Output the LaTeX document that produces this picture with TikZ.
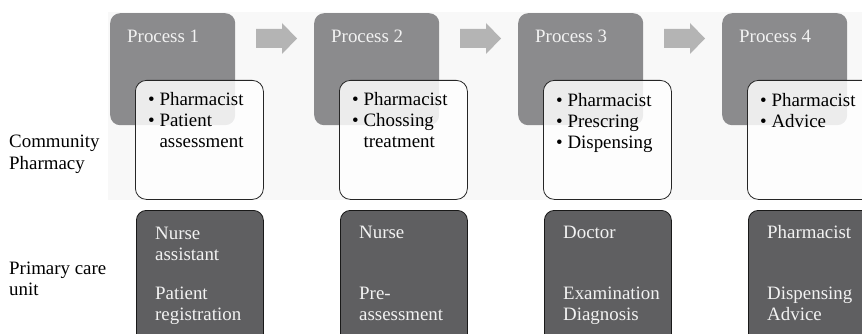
\documentclass[tikz,border=0pt]{standalone}
\usepackage{fontspec}
\setmainfont{Liberation Serif}
\definecolor{panel}{HTML}{F8F8F8}
\definecolor{procgray}{HTML}{8B8B8D}
\definecolor{darkbox}{HTML}{5F5F61}
\definecolor{arrowgray}{HTML}{B4B4B4}
\definecolor{procText}{HTML}{F2F2F2}
\begin{document}
\begin{tikzpicture}[x=1pt,y=-1pt,
  txt/.style={font=\fontsize{18.9}{21}\selectfont, inner sep=0pt, align=left, anchor=base west},
  procbox/.style={fill=procgray, rounded corners=10pt, minimum width=125pt, minimum height=112pt, inner sep=0pt, anchor=north west},
  whitebox/.style={draw=black!85, line width=0.8pt, fill=white, fill opacity=0.84, rounded corners=11pt, minimum width=128pt, minimum height=119pt, inner sep=0pt, anchor=north west},
  darkbx/.style={draw=black!90, line width=0.8pt, fill=darkbox, rounded corners=10pt, minimum width=127pt, minimum height=135pt, inner sep=0pt, anchor=north west},
  blockarrow/.style={fill=arrowgray}]
\clip (0,0) rectangle (862,334);
\fill[white] (0,0) rectangle (862,334);
\fill[panel] (108,12) rectangle (862,200);

% left labels (base anchor = last line)
\node[txt] (lcp) at (9,169) {Community\\Pharmacy};
\node[txt] (lpc) at (9,295) {Primary care\\unit};

% process boxes
\foreach \i/\x in {1/110,2/314,3/518,4/722}{
  \node[procbox] (p\i) at (\x,13) {};
  \node[txt, text=procText] (pt\i) at (\x+17,43) {Process \i};
}

% arrows
\foreach \i/\x in {1/256,2/460,3/664}{
  \fill[blockarrow] (\x,29) -- (\x+26,29) -- (\x+26,23) -- (\x+41,38.5) -- (\x+26,54) -- (\x+26,48) -- (\x,48) -- cycle;
}

% white boxes
\foreach \i/\x in {1/135,2/339,3/543,4/747}{
  \node[whitebox] (w\i) at (\x,80) {};
}
\node[txt] (wt1) at (148,148) {• Pharmacist\\• Patient\\\phantom{• }assessment};
\node[txt] (wt2) at (352,148) {• Pharmacist\\• Chossing\\\phantom{• }treatment};
\node[txt] (wt3) at (556,149) {• Pharmacist\\• Prescring\\• Dispensing};
\node[txt] (wt4) at (760,128) {• Pharmacist\\• Advice};

% dark boxes
\foreach \i/\x in {1/136,2/340,3/544,4/748}{
  \node[darkbx] (d\i) at (\x,210) {};
}
\node[txt, text=procText] (da1) at (155,260) {Nurse\\assistant};
\node[txt, text=procText] (db1) at (155,320) {Patient\\registration};
\node[txt, text=procText] (da2) at (359,238) {Nurse};
\node[txt, text=procText] (db2) at (359,320) {Pre-\\assessment};
\node[txt, text=procText] (da3) at (563,238) {Doctor};
\node[txt, text=procText] (db3) at (563,320) {Examination\\Diagnosis};
\node[txt, text=procText] (da4) at (767,238) {Pharmacist};
\node[txt, text=procText] (db4) at (767,320) {Dispensing\\Advice};
\end{tikzpicture}
\end{document}
